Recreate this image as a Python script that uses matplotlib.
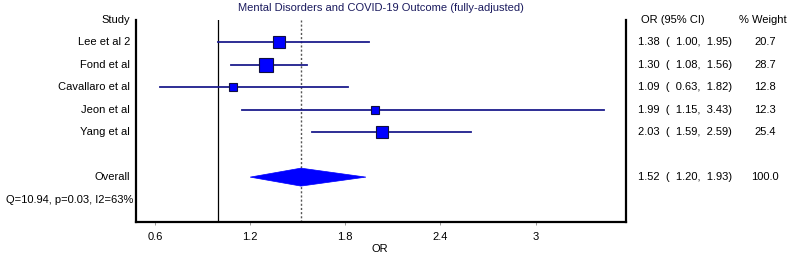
#!/usr/bin/env python3
# -*- coding: utf-8 -*-
import numpy as np
import matplotlib
matplotlib.use("Agg")
import matplotlib.pyplot as plt
from matplotlib.patches import Polygon

# -------------------------
# Data
# -------------------------
studies = ["Lee et al 2", "Fond et al", "Cavallaro et al", "Jeon et al", "Yang et al"]
or_est = [1.38, 1.30, 1.09, 1.99, 2.03]
ci_low = [1.00, 1.08, 0.63, 1.15, 1.59]
ci_high = [1.95, 1.56, 1.82, 3.43, 2.59]
weights = [20.7, 28.7, 12.8, 12.3, 25.4]

overall_or = 1.52
overall_low = 1.20
overall_high = 1.93
overall_weight = 100.0
het_text = "Q=10.94, p=0.03, I2=63%"

x_ticks = [0.6, 1.2, 1.8, 2.4, 3]
title = "Mental Disorders and COVID-19 Outcome (fully-adjusted)"

# -------------------------
# Plot
# -------------------------
plt.rcParams["font.family"] = ["Liberation Sans", "DejaVu Sans"]
fs = 8.0
navy = "#1c1c8c"

fig = plt.figure(figsize=(7.91, 2.57), dpi=100)
ax = fig.add_axes([136 / 791, 35 / 257, 490 / 791, 202 / 257])

rows = np.arange(1, len(studies) + 1)
overall_row = len(studies) + 2

ax.axvline(1.0, color="black", lw=0.9, zorder=1)
ax.axvline(overall_or, color="#555555", lw=1.0, ls=(0, (1.5, 1.5)), zorder=1)

for y, est, lo, hi, w in zip(rows, or_est, ci_low, ci_high, weights):
    ax.plot([lo, hi], [y, y], color=navy, lw=1.3, zorder=2)
    ax.plot(est, y, marker="s", ms=1.8 * np.sqrt(w), mfc="#0000ff",
            mec="#101040", mew=0.8, zorder=3)

h = 0.4
diamond = Polygon([[overall_low, overall_row], [overall_or, overall_row - h],
                   [overall_high, overall_row], [overall_or, overall_row + h]],
                  closed=True, facecolor="#0000ff", edgecolor="#0000ff", lw=0.5, zorder=3)
ax.add_patch(diamond)

ax.set_xlim(0.48, 3.57)
ax.set_ylim(overall_row + 2, 0)
ax.set_xticks(x_ticks)
ax.set_xticklabels([str(t) for t in x_ticks], fontsize=fs)
ax.set_yticks([])
ax.tick_params(axis="x", length=2, width=0.6, color="#888888", pad=5)
ax.spines["top"].set_visible(False)
for s in ["left", "right", "bottom"]:
    ax.spines[s].set_linewidth(1.6)

ax.set_xlabel("OR", fontsize=fs, labelpad=1)
ax.xaxis.set_label_coords(0.498, -0.11)

# left labels
tr = ax.get_yaxis_transform()
lx = -6 / 490
ax.text(lx, 0, "Study", transform=tr, ha="right", va="center", fontsize=fs)
for y, name in zip(rows, studies):
    ax.text(lx, y, name, transform=tr, ha="right", va="center", fontsize=fs)
ax.text(lx, overall_row, "Overall", transform=tr, ha="right", va="center", fontsize=fs)
ax.text(-3 / 490, overall_row + 1, het_text, transform=tr, ha="right", va="center", fontsize=fs)

# right columns
cx = 1 + 12 / 490
wx = 1 + 125 / 490
ax.text(1 + 15 / 490, 0, "OR (95% CI)", transform=tr, ha="left", va="center", fontsize=fs)
ax.text(1 + 113 / 490, 0, "% Weight", transform=tr, ha="left", va="center", fontsize=fs)
for y, est, lo, hi, w in zip(rows, or_est, ci_low, ci_high, weights):
    ax.text(cx, y, f"{est:.2f}  (  {lo:.2f},  {hi:.2f})", transform=tr,
            ha="left", va="center", fontsize=fs)
    ax.text(wx + 3 / 490, y, f"{w:.1f}", transform=tr, ha="left", va="center", fontsize=fs)
ax.text(cx, overall_row, f"{overall_or:.2f}  (  {overall_low:.2f},  {overall_high:.2f})",
        transform=tr, ha="left", va="center", fontsize=fs)
ax.text(wx, overall_row, f"{overall_weight:.1f}", transform=tr,
        ha="left", va="center", fontsize=fs)

fig.text(381 / 791, 1 - 8 / 257, title, ha="center", va="center",
         fontsize=fs, color="#1a1a5e")

fig.savefig("out.png", dpi=100)
